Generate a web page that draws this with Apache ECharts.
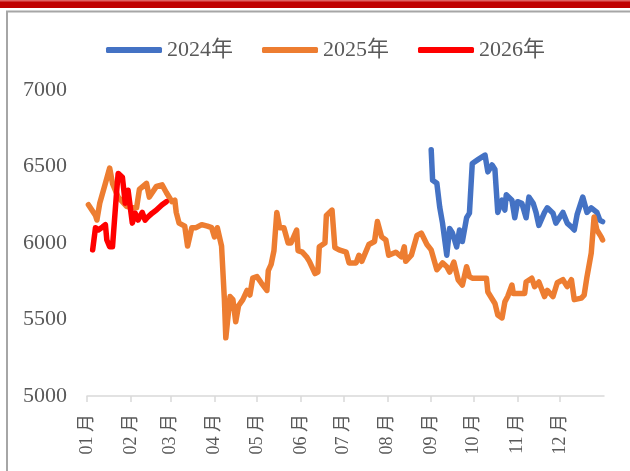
<!DOCTYPE html>
<html>
<head>
<meta charset="utf-8">
<script src="https://cdn.jsdelivr.net/npm/echarts@6/dist/echarts.min.js"></script>
<style>html,body{margin:0;padding:0;background:#fff;}#c{width:630px;height:471px;}</style>
</head>
<body>
<div id="c"></div>
<script>
// Series names
var seriesNames = ['2024年', '2025年', '2026年'];
// Y axis ticks
var yTicks = [5000, 5500, 6000, 6500, 7000];

// 2024 (blue) : month-day, value
var dates2024 = ['09-01','09-02','09-05','09-07','09-09','09-12','09-14','09-16','09-19','09-21','09-23','09-26','09-28','09-30','10-04','10-09','10-11','10-14','10-16','10-18','10-21','10-23','10-24','10-28','10-30','11-01','11-04','11-07','11-09','11-12','11-14','11-16','11-20','11-22','11-26','11-28','12-03','12-06','12-09','12-11','12-13','12-17','12-20','12-23','12-27','12-29','12-31'];
var values2024 = [6610,6410,6390,6235,6130,5920,6095,6065,5975,6085,6010,6165,6195,6520,6545,6575,6465,6510,6480,6200,6280,6215,6315,6280,6165,6270,6260,6165,6300,6260,6200,6115,6200,6230,6195,6130,6200,6130,6105,6085,6185,6300,6200,6230,6200,6150,6140];

// 2025 (orange)
var dates2025 = ['01-02','01-07','01-08','01-10','01-14','01-17','01-19','01-23','01-29','02-02','02-05','02-07','02-12','02-14','02-19','02-23','02-26','03-02','03-04','03-05','03-07','03-11','03-13','03-16','03-19','03-23','03-27','03-30','04-01','04-03','04-06','04-08','04-09','04-12','04-14','04-16','04-18','04-21','04-24','04-26','04-28','05-01','05-04','05-08','05-09','05-11','05-13','05-15','05-17','05-20','05-23','05-25','05-29','05-30','06-02','06-05','06-07','06-11','06-13','06-14','06-18','06-19','06-23','06-25','06-28','07-03','07-05','07-10','07-12','07-14','07-19','07-23','07-25','07-28','07-31','08-02','08-07','08-11','08-13','08-14','08-18','08-22','08-25','08-29','09-01','09-05','09-09','09-12','09-14','09-17','09-20','09-23','09-26','09-28','09-30','10-10','10-11','10-16','10-18','10-21','10-23','10-25','10-28','10-29','11-01','11-06','11-07','11-11','11-13','11-16','11-20','11-22','11-26','11-29','12-03','12-06','12-09','12-11','12-16','12-18','12-20','12-23','12-25','12-27','12-30','12-31'];
var values2025 = [6250,6180,6150,6260,6390,6490,6390,6300,6240,6230,6230,6350,6390,6300,6370,6380,6330,6270,6280,6200,6130,6110,5980,6100,6100,6120,6110,6100,6040,6100,5980,5630,5380,5650,5630,5485,5590,5630,5690,5660,5770,5780,5740,5690,5820,5860,5950,6200,6100,6100,6000,6000,6085,5950,5940,5910,5880,5800,5810,5975,6000,6180,6215,5970,5955,5940,5870,5870,5920,5880,5990,6010,6140,6040,6020,5920,5940,5910,5975,5880,5920,6050,6065,5990,5955,5825,5870,5845,5810,5875,5760,5725,5845,5780,5770,5770,5680,5605,5530,5510,5615,5650,5725,5670,5670,5670,5745,5770,5715,5745,5650,5690,5650,5740,5760,5715,5760,5630,5640,5660,5780,5935,6170,6085,6040,6020];

// 2026 (red)
var dates2026 = ['01-05','01-07','01-09','01-12','01-14','01-15','01-17','01-19','01-22','01-23','01-26','01-28','01-30','02-02','02-04','02-06','02-09','02-11','02-13','02-16','02-19','02-23','02-26'];
var values2026 = [5955,6100,6085,6105,6120,6020,5975,5975,6345,6455,6430,6260,6345,6130,6195,6150,6200,6150,6170,6195,6215,6250,6270];

var colors = ['#4472C4', '#ED7D31', '#FF0000'];

function pairs(dates, vals) {
  return dates.map(function (d, i) { return ['2025-' + d, vals[i]]; });
}

var fontFam = "'Liberation Serif', 'Times New Roman', 'Noto Sans CJK SC', serif";
var chart = echarts.init(document.getElementById('c'));
var allData = [pairs(dates2024, values2024), pairs(dates2025, values2025), pairs(dates2026, values2026)];

chart.setOption({
  animation: false,
  backgroundColor: '#ffffff',
  graphic: [
    { type: 'rect', shape: { x: 0, y: 0, width: 630, height: 8 }, style: { fill: '#C00000' }, silent: true },
    { type: 'rect', shape: { x: 0, y: 0, width: 630, height: 1.5 }, style: { fill: '#E06060' }, silent: true },
    { type: 'polyline', shape: { points: [[7, 471], [7, 11.5], [630, 11.5]] }, style: { stroke: '#A6A6A6', lineWidth: 2, fill: null }, silent: true }
  ],
  legend: {
    top: 34,
    left: 101,
    itemWidth: 56,
    itemHeight: 6,
    itemGap: 29,
    icon: 'roundRect',
    textStyle: { fontFamily: fontFam, fontSize: 22, color: '#595959' },
    data: seriesNames
  },
  grid: { left: 87, right: 26, top: 90, bottom: 75 },
  xAxis: {
    type: 'time',
    min: '2025-01-01',
    max: '2026-01-01',
    splitNumber: 12,
    minInterval: 28 * 86400000,
    maxInterval: 31 * 86400000,
    axisLine: { show: true, lineStyle: { color: '#D9D9D9', width: 1.5 } },
    axisTick: { show: true, length: 6, lineStyle: { color: '#D9D9D9', width: 1.5 } },
    splitLine: { show: false },
    axisLabel: {
      rotate: 90,
      margin: 18,
      showMaxLabel: false,
      fontFamily: fontFam,
      fontSize: 18,
      color: '#595959',
      formatter: function (val) {
        var d = new Date(val);
        var m = d.getMonth() + 1;
        return (m < 10 ? '0' + m : '' + m) + ' 月';
      }
    }
  },
  yAxis: {
    type: 'value',
    min: yTicks[0],
    max: yTicks[yTicks.length - 1],
    interval: 500,
    axisLine: { show: false },
    axisTick: { show: false },
    splitLine: { show: false },
    axisLabel: {
      margin: 20, fontFamily: fontFam, fontSize: 22, color: '#595959',
      formatter: function (v) { return String(v); }
    }
  },
  series: seriesNames.map(function (n, i) {
    return {
      name: n,
      type: 'line',
      data: allData[i],
      showSymbol: false,
      symbol: 'none',
      color: colors[i],
      lineStyle: { width: 5.5, color: colors[i], cap: 'round', join: 'round' },
      z: 2 + i
    };
  })
});
</script>
</body>
</html>
